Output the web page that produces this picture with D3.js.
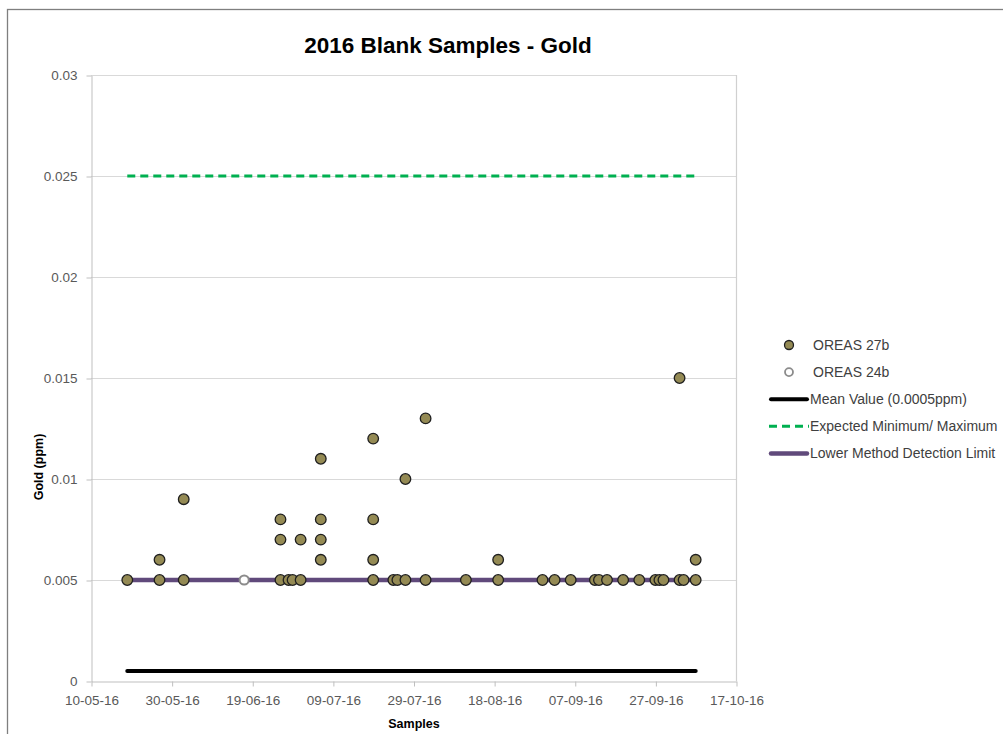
<!DOCTYPE html>
<html>
<head>
<meta charset="utf-8">
<script src="https://cdn.jsdelivr.net/npm/d3@7"></script>
<style>
  html, body { margin: 0; padding: 0; background: #fff; }
  svg { display: block; }
</style>
</head>
<body>
<svg id="chart" width="1003" height="734"></svg>
<script>
// ---------- DATA ----------
const oreas27bDates = [
  "2016-05-19",
  "2016-05-27", "2016-05-27",
  "2016-06-02", "2016-06-02",
  "2016-06-26", "2016-06-26", "2016-06-26",
  "2016-06-28",
  "2016-06-29",
  "2016-07-01", "2016-07-01",
  "2016-07-06", "2016-07-06", "2016-07-06", "2016-07-06",
  "2016-07-19", "2016-07-19", "2016-07-19", "2016-07-19",
  "2016-07-24",
  "2016-07-25",
  "2016-07-27", "2016-07-27",
  "2016-08-01", "2016-08-01",
  "2016-08-11",
  "2016-08-19", "2016-08-19",
  "2016-08-30",
  "2016-09-02",
  "2016-09-06",
  "2016-09-12",
  "2016-09-13",
  "2016-09-15",
  "2016-09-19",
  "2016-09-23",
  "2016-09-27",
  "2016-09-28",
  "2016-09-29",
  "2016-10-03", "2016-10-03",
  "2016-10-04",
  "2016-10-07", "2016-10-07"
];
const oreas27bValues = [
  0.005,
  0.005, 0.006,
  0.005, 0.009,
  0.005, 0.007, 0.008,
  0.005,
  0.005,
  0.005, 0.007,
  0.006, 0.007, 0.008, 0.011,
  0.005, 0.006, 0.008, 0.012,
  0.005,
  0.005,
  0.005, 0.010,
  0.005, 0.013,
  0.005,
  0.005, 0.006,
  0.005,
  0.005,
  0.005,
  0.005,
  0.005,
  0.005,
  0.005,
  0.005,
  0.005,
  0.005,
  0.005,
  0.005, 0.015,
  0.005,
  0.005, 0.006
];
const oreas24bDates = ["2016-06-17"];
const oreas24bValues = [0.005];

const lineStartDate = "2016-05-19";
const lineEndDate = "2016-10-07";
const meanValue = 0.0005;
const expectedMax = 0.025;
const lowerDetectionLimit = 0.005;

const xTickDates = ["2016-05-10", "2016-05-30", "2016-06-19", "2016-07-09", "2016-07-29",
                    "2016-08-18", "2016-09-07", "2016-09-27", "2016-10-17"];
const yTickValues = [0, 0.005, 0.01, 0.015, 0.02, 0.025, 0.03];
const yTickLabels = ["0", "0.005", "0.01", "0.015", "0.02", "0.025", "0.03"];

const titleText = "2016 Blank Samples - Gold";
const xAxisTitle = "Samples";
const yAxisTitle = "Gold (ppm)";
const legendLabels = ["OREAS 27b", "OREAS 24b", "Mean Value (0.0005ppm)",
                      "Expected Minimum/ Maximum", "Lower Method Detection Limit"];

// ---------- SETUP ----------
const parse = d3.utcParse("%Y-%m-%d");
const fmt = d3.utcFormat("%d-%m-%y");
const font = "'Liberation Sans', Arial, sans-serif";

const svg = d3.select("#chart");
const plot = { left: 91, right: 736, top: 75, bottom: 681 };

const x = d3.scaleUtc()
  .domain([parse(xTickDates[0]), parse(xTickDates[xTickDates.length - 1])])
  .range([plot.left, plot.right]);
const y = d3.scaleLinear()
  .domain([0, 0.03])
  .range([plot.bottom, plot.top]);

// outer chart border (right and bottom edges fall outside the picture)
svg.append("rect")
  .attr("x", 7.5).attr("y", 9.5)
  .attr("width", 1010).attr("height", 740)
  .attr("fill", "#fff")
  .attr("stroke", "#7f7f7f").attr("stroke-width", 1.3);

// title
svg.append("text")
  .attr("x", 448).attr("y", 53)
  .attr("text-anchor", "middle")
  .attr("font-family", font).attr("font-weight", "bold")
  .attr("font-size", 22.5).attr("fill", "#000")
  .text(titleText);

// gridlines
svg.append("g").selectAll("line")
  .data(yTickValues.filter(v => v > 0))
  .join("line")
  .attr("x1", plot.left).attr("x2", plot.right)
  .attr("y1", d => Math.round(y(d)) + 0.5).attr("y2", d => Math.round(y(d)) + 0.5)
  .attr("stroke", "#d9d9d9").attr("stroke-width", 1.2);

// right plot border
svg.append("line")
  .attr("x1", plot.right + 0.5).attr("x2", plot.right + 0.5)
  .attr("y1", plot.top).attr("y2", plot.bottom)
  .attr("stroke", "#d0d0d0").attr("stroke-width", 1.2);

// y axis
const yAxis = d3.axisLeft(y)
  .tickValues(yTickValues)
  .tickFormat((d, i) => yTickLabels[i])
  .tickSizeOuter(0).tickSizeInner(5).tickPadding(9);
const gy = svg.append("g")
  .attr("transform", `translate(${plot.left + 0.5},0.5)`)
  .call(yAxis);
gy.select(".domain").attr("stroke", "#bfbfbf");
gy.selectAll(".tick line").attr("stroke", "#bfbfbf");
gy.selectAll(".tick text")
  .attr("font-family", font).attr("font-size", 13.5).attr("fill", "#595959");

// x axis
const xAxis = d3.axisBottom(x)
  .tickValues(xTickDates.map(parse))
  .tickFormat(fmt)
  .tickSizeOuter(0).tickSizeInner(5).tickPadding(9);
const gx = svg.append("g")
  .attr("transform", `translate(0.5,${plot.bottom + 0.5})`)
  .call(xAxis);
gx.select(".domain").attr("stroke", "#bfbfbf");
gx.selectAll(".tick line").attr("stroke", "#bfbfbf");
gx.selectAll(".tick text")
  .attr("font-family", font).attr("font-size", 13.5).attr("fill", "#595959");

// axis titles
svg.append("text")
  .attr("x", 414).attr("y", 728)
  .attr("text-anchor", "middle")
  .attr("font-family", font).attr("font-weight", "bold")
  .attr("font-size", 12.5).attr("fill", "#000")
  .text(xAxisTitle);
svg.append("text")
  .attr("transform", "translate(43,467) rotate(-90)")
  .attr("text-anchor", "middle")
  .attr("font-family", font).attr("font-weight", "bold")
  .attr("font-size", 12.5).attr("fill", "#000")
  .text(yAxisTitle);

// reference lines
const refLine = d3.line().x(d => x(d[0])).y(d => y(d[1]));
const x0 = parse(lineStartDate), x1 = parse(lineEndDate);

svg.append("path")
  .attr("d", refLine([[x0, expectedMax], [x1, expectedMax]]))
  .attr("stroke", "#00b050").attr("stroke-width", 3)
  .attr("stroke-dasharray", "8,5").attr("fill", "none");

svg.append("path")
  .attr("d", refLine([[x0, meanValue], [x1, meanValue]]))
  .attr("stroke", "#000").attr("stroke-width", 4)
  .attr("stroke-linecap", "round").attr("fill", "none");

svg.append("path")
  .attr("d", refLine([[x0, lowerDetectionLimit], [x1, lowerDetectionLimit]]))
  .attr("stroke", "#604a7b").attr("stroke-width", 4.5)
  .attr("stroke-linecap", "round").attr("fill", "none");

// OREAS 24b (hollow)
svg.append("g").selectAll("circle")
  .data(oreas24bDates.map((d, i) => [parse(d), oreas24bValues[i]]))
  .join("circle")
  .attr("cx", d => x(d[0])).attr("cy", d => y(d[1]))
  .attr("r", 4.6)
  .attr("fill", "#fff").attr("stroke", "#8c8c8c").attr("stroke-width", 2);

// OREAS 27b
svg.append("g").selectAll("circle")
  .data(oreas27bDates.map((d, i) => [parse(d), oreas27bValues[i]]))
  .join("circle")
  .attr("cx", d => x(d[0])).attr("cy", d => y(d[1]))
  .attr("r", 5.3)
  .attr("fill", "#948a54").attr("stroke", "#1f1f1f").attr("stroke-width", 1.3);

// legend
const lg = svg.append("g");
const legendX = 789, legendY0 = 345, legendStep = 27.1;
legendLabels.forEach((lab, i) => {
  const cy = legendY0 + i * legendStep;
  if (i === 0) {
    lg.append("circle").attr("cx", legendX).attr("cy", cy).attr("r", 4.5)
      .attr("fill", "#948a54").attr("stroke", "#1f1f1f").attr("stroke-width", 1.3);
  } else if (i === 1) {
    lg.append("circle").attr("cx", legendX).attr("cy", cy).attr("r", 4)
      .attr("fill", "#fff").attr("stroke", "#8c8c8c").attr("stroke-width", 1.8);
  } else if (i === 2) {
    lg.append("line").attr("x1", 771).attr("x2", 807).attr("y1", cy).attr("y2", cy)
      .attr("stroke", "#000").attr("stroke-width", 4).attr("stroke-linecap", "round");
  } else if (i === 3) {
    lg.append("line").attr("x1", 769).attr("x2", 809).attr("y1", cy).attr("y2", cy)
      .attr("stroke", "#00b050").attr("stroke-width", 3).attr("stroke-dasharray", "8,5");
  } else {
    lg.append("line").attr("x1", 771).attr("x2", 807).attr("y1", cy).attr("y2", cy)
      .attr("stroke", "#604a7b").attr("stroke-width", 4.5).attr("stroke-linecap", "round");
  }
  lg.append("text")
    .attr("x", i < 2 ? 813 : 810).attr("y", cy).attr("dy", "0.35em")
    .attr("font-family", font).attr("font-size", 14).attr("fill", "#404040")
    .text(lab);
});
</script>
</body>
</html>
